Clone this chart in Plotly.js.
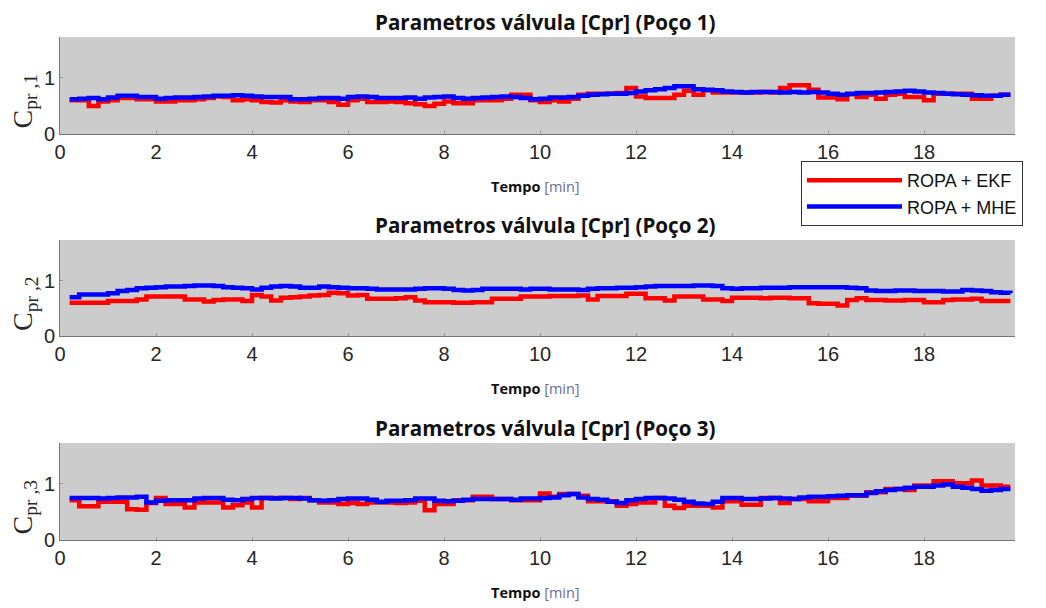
<!DOCTYPE html>
<html>
<head>
<meta charset="utf-8">
<script src="https://cdn.plot.ly/plotly-3.0.1.min.js"></script>
<style>html,body{margin:0;padding:0;background:#fff;}#chart{width:1046px;height:608px;}</style>
</head>
<body>
<div id="chart"></div>
<script>
// Time samples [min]
const tempo = [0.2,0.4,0.6,0.8,1.0,1.2,1.4,1.6,1.8,2.0,
2.2,2.4,2.6,2.8,3.0,3.2,3.4,3.6,3.8,4.0,
4.2,4.4,4.6,4.8,5.0,5.2,5.4,5.6,5.8,6.0,
6.2,6.4,6.6,6.8,7.0,7.2,7.4,7.6,7.8,8.0,
8.2,8.4,8.6,8.8,9.0,9.2,9.4,9.6,9.8,10.0,
10.2,10.4,10.6,10.8,11.0,11.2,11.4,11.6,11.8,12.0,
12.2,12.4,12.6,12.8,13.0,13.2,13.4,13.6,13.8,14.0,
14.2,14.4,14.6,14.8,15.0,15.2,15.4,15.6,15.8,16.0,
16.2,16.4,16.6,16.8,17.0,17.2,17.4,17.6,17.8,18.0,
18.2,18.4,18.6,18.8,19.0,19.2,19.4,19.6,19.8];

const ekf1 = [.60,.60,.50,.58,.60,.64,.64,.62,.62,.58,
.58,.60,.60,.62,.64,.67,.66,.60,.62,.60,
.57,.56,.60,.58,.57,.60,.60,.57,.52,.60,
.63,.57,.57,.58,.57,.55,.53,.50,.54,.58,
.55,.55,.60,.60,.60,.63,.70,.70,.60,.57,
.60,.58,.63,.70,.72,.72,.72,.73,.82,.67,
.64,.64,.64,.70,.77,.70,.78,.74,.74,.74,
.74,.74,.75,.74,.82,.87,.87,.79,.65,.65,
.62,.71,.66,.70,.63,.70,.72,.66,.66,.60,
.72,.72,.72,.72,.63,.63,.68,.70,.70];
const mhe1 = [.62,.63,.64,.62,.65,.68,.68,.66,.66,.63,
.64,.65,.65,.66,.67,.68,.68,.69,.68,.67,
.66,.66,.66,.62,.62,.63,.64,.64,.63,.66,
.67,.66,.64,.64,.64,.65,.63,.65,.66,.67,
.64,.63,.64,.65,.66,.67,.66,.64,.62,.63,
.65,.65,.66,.68,.70,.71,.72,.72,.73,.76,
.78,.80,.82,.85,.85,.80,.79,.78,.76,.75,
.74,.75,.75,.75,.74,.75,.74,.75,.74,.72,
.70,.72,.73,.73,.74,.75,.76,.77,.76,.74,
.73,.72,.71,.70,.69,.68,.68,.70,.70];

const ekf2 = [.60,.60,.60,.60,.63,.63,.63,.66,.71,.71,
.71,.71,.66,.66,.62,.65,.66,.66,.63,.74,
.71,.64,.69,.70,.71,.73,.74,.78,.77,.73,
.74,.67,.67,.67,.68,.70,.64,.61,.61,.61,
.60,.60,.61,.61,.67,.67,.67,.71,.71,.71,
.72,.72,.72,.73,.66,.72,.72,.72,.76,.76,
.68,.68,.64,.71,.71,.71,.66,.66,.63,.69,
.69,.69,.68,.69,.69,.68,.68,.59,.58,.58,
.55,.65,.68,.65,.65,.64,.64,.65,.65,.61,
.61,.65,.66,.66,.67,.63,.63,.63,.63];
const mhe2 = [.70,.75,.75,.75,.77,.81,.83,.86,.87,.88,
.89,.89,.90,.91,.91,.90,.88,.87,.86,.84,
.87,.89,.90,.89,.87,.87,.89,.88,.87,.86,
.86,.85,.84,.84,.84,.84,.85,.86,.86,.85,
.83,.82,.83,.85,.85,.85,.85,.84,.85,.85,
.84,.84,.84,.83,.85,.86,.86,.87,.87,.88,
.89,.90,.90,.90,.90,.91,.91,.90,.86,.85,
.86,.86,.87,.87,.87,.88,.88,.88,.88,.88,
.88,.87,.86,.82,.81,.81,.82,.82,.81,.81,
.81,.80,.80,.83,.82,.81,.79,.78,.77];

const ekf3 = [.71,.60,.60,.68,.68,.68,.55,.54,.66,.75,
.64,.64,.58,.67,.67,.67,.58,.62,.67,.58,
.75,.75,.75,.73,.75,.71,.67,.67,.64,.66,
.64,.67,.67,.67,.66,.67,.70,.53,.64,.64,
.71,.71,.77,.77,.73,.73,.71,.71,.71,.83,
.77,.82,.82,.79,.69,.69,.69,.61,.64,.67,
.67,.75,.61,.57,.61,.61,.61,.58,.69,.69,
.63,.63,.75,.75,.66,.73,.73,.69,.69,.75,
.75,.79,.79,.85,.85,.91,.91,.89,.97,.97,
1.05,1.05,1.01,1.01,1.06,.97,.97,.95,.95];
const mhe3 = [.75,.75,.75,.74,.75,.76,.76,.77,.67,.70,
.71,.71,.71,.74,.75,.75,.72,.71,.73,.75,
.75,.74,.75,.75,.74,.71,.70,.71,.73,.74,
.74,.72,.68,.70,.70,.71,.74,.74,.70,.69,
.70,.72,.73,.73,.73,.73,.72,.74,.74,.75,
.76,.80,.82,.76,.73,.72,.68,.66,.71,.73,
.75,.75,.74,.72,.68,.65,.64,.68,.75,.75,
.73,.73,.74,.75,.74,.73,.76,.77,.77,.78,
.79,.80,.80,.84,.87,.89,.91,.93,.95,.95,
.97,.99,.95,.93,.91,.88,.89,.91,.91];

const seriesNames = ["ROPA + EKF", "ROPA + MHE"];
const panelTitles = ["Parametros válvula [Cpr] (Poço 1)", "Parametros válvula [Cpr] (Poço 2)", "Parametros válvula [Cpr] (Poço 3)"];
const yLabels = ["C<sub>pr ,1</sub>", "C<sub>pr ,2</sub>", "C<sub>pr ,3</sub>"];
const xTickVals = [0,2,4,6,8,10,12,14,16,18];
const yTickVals = [0,1];

const W = 1046, H = 608;
// plot area pixel boxes [top, bottom]
const boxes = [[37,134],[240,336],[443,540]];
const xLeft = 60, xRight = 1015;

const ekf = [ekf1, ekf2, ekf3];
const mhe = [mhe1, mhe2, mhe3];
const traces = [];
const layout = {
  width: W, height: H,
  margin: {l:0, r:0, t:0, b:0},
  paper_bgcolor: '#ffffff',
  plot_bgcolor: '#cccccc',
  showlegend: true,
  legend: {
    x: 801/W, y: 1 - 161/H, xanchor: 'left', yanchor: 'top',
    bgcolor: '#ffffff', bordercolor: '#333333', borderwidth: 1,
    font: {family: 'Liberation Sans, Arial, sans-serif', size: 18, color: '#111111'},
    itemwidth: 95, tracegroupgap: 4
  },
  annotations: []
};

for (let i = 0; i < 3; i++) {
  const sfx = i === 0 ? '' : String(i + 1);
  const xa = 'x' + sfx, ya = 'y' + sfx;
  traces.push({x: tempo, y: ekf[i], type: 'scatter', mode: 'lines', line: {shape: 'hv', color: '#ff0000', width: 4.5},
    name: seriesNames[0], xaxis: xa, yaxis: ya, showlegend: i === 0});
  traces.push({x: tempo, y: mhe[i], type: 'scatter', mode: 'lines', line: {shape: 'hv', color: '#0000ff', width: 4.5},
    name: seriesNames[1], xaxis: xa, yaxis: ya, showlegend: i === 0});
  const [top, bot] = boxes[i];
  const dom = [1 - bot / H, 1 - top / H];
  layout['xaxis' + sfx] = {
    domain: [xLeft / W, xRight / W], range: [0, (xRight - xLeft) / 48], anchor: ya,
    tickvals: xTickVals, ticks: 'inside', ticklen: 3, tickcolor: '#999999',
    showgrid: false, zeroline: false, showline: true, linecolor: '#777777', linewidth: 1,
    tickfont: {family: 'Liberation Sans, Arial, sans-serif', size: 20, color: '#262626'}
  };
  layout['yaxis' + sfx] = {
    domain: dom, range: [0, 1.73], anchor: xa,
    tickvals: yTickVals, ticks: 'inside', ticklen: 3, tickcolor: '#999999',
    showgrid: false, zeroline: false, showline: true, linecolor: '#777777', linewidth: 1,
    tickfont: {family: 'Liberation Sans, Arial, sans-serif', size: 20, color: '#262626'}
  };
  layout.annotations.push({
    text: '<b>' + panelTitles[i] + '</b>', xref: 'paper', yref: 'paper',
    x: 545 / W, y: 1 - (top - 15) / H, xanchor: 'center', yanchor: 'middle', showarrow: false,
    font: {family: 'Open Sans, sans-serif', size: 20.6, color: '#111111'}
  });
  layout.annotations.push({
    text: '<b>Tempo</b> <span style="color:#6b6b9e">[min]</span>', xref: 'paper', yref: 'paper',
    x: 535 / W, y: 1 - (bot + 52) / H, xanchor: 'center', yanchor: 'middle', showarrow: false,
    font: {family: 'Open Sans, sans-serif', size: 14.5, color: '#111111'}
  });
  layout.annotations.push({
    text: yLabels[i], xref: 'paper', yref: 'paper', textangle: -90,
    x: 24 / W, y: 1 - ((top + bot) / 2 + 16) / H, xanchor: 'center', yanchor: 'middle', showarrow: false,
    font: {family: 'Liberation Serif, DejaVu Serif, serif', size: 28, color: '#262626'}
  });
}

Plotly.newPlot('chart', traces, layout, {displayModeBar: false, staticPlot: true});
</script>
</body>
</html>
